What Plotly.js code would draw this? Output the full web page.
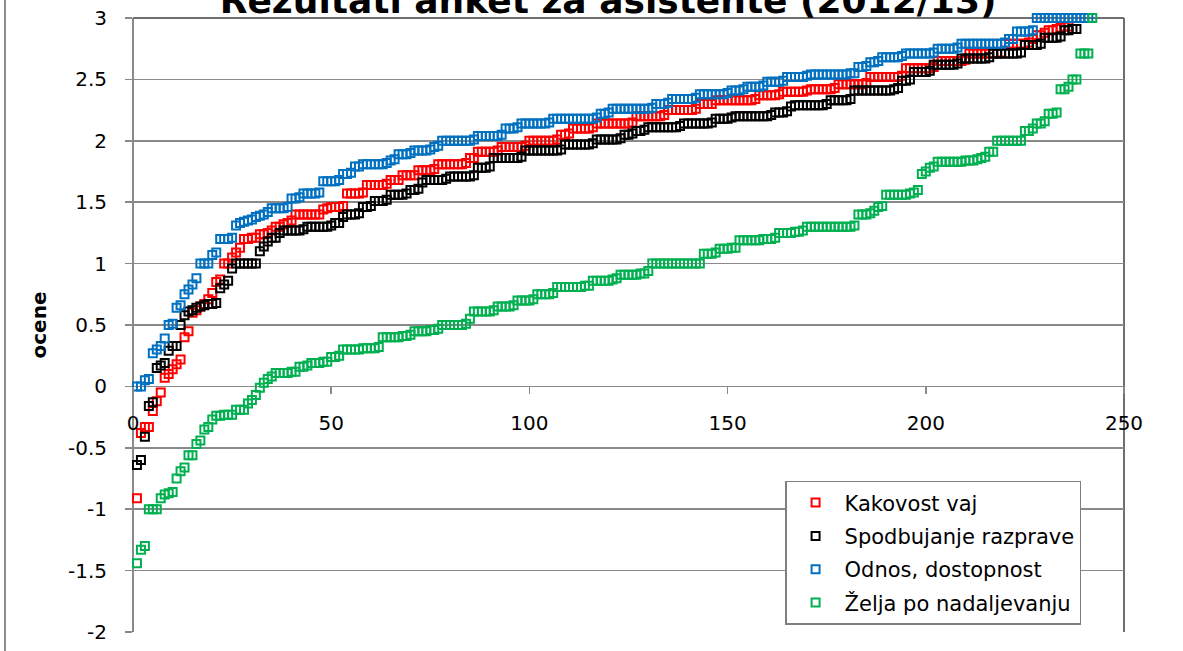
<!DOCTYPE html>
<html>
<head>
<meta charset="utf-8">
<script src="https://cdn.plot.ly/plotly-3.0.1.min.js"></script>
<style>
html,body{margin:0;padding:0;background:#fff;}
#chart{width:1183px;height:651px;}
</style>
</head>
<body>
<div id="chart"></div>
<script>
const chartTitle = "Rezultati anket za asistente (2012/13)";
const yTitle = "ocene";
const seriesNames = ["Kakovost vaj", "Spodbujanje razprave", "Odnos, dostopnost", "Želja po nadaljevanju"];

const kakovostVaj = [
-0.91,-0.38,-0.33,-0.33,-0.20,-0.12,-0.05,0.07,0.10,0.14,
0.18,0.22,0.40,0.45,0.60,0.62,0.65,0.67,0.71,0.76,
0.85,0.87,1.00,1.00,1.05,1.09,1.13,1.20,1.20,1.21,
1.21,1.24,1.24,1.25,1.27,1.30,1.30,1.32,1.33,1.35,
1.40,1.40,1.40,1.40,1.40,1.40,1.40,1.44,1.45,1.46,
1.46,1.46,1.47,1.57,1.57,1.57,1.57,1.58,1.64,1.64,
1.64,1.64,1.64,1.65,1.68,1.68,1.68,1.72,1.72,1.72,
1.72,1.76,1.76,1.76,1.76,1.77,1.81,1.81,1.81,1.81,
1.81,1.81,1.81,1.82,1.86,1.86,1.91,1.91,1.91,1.91,
1.91,1.92,1.95,1.95,1.95,1.95,1.95,1.95,1.96,2.00,
2.00,2.00,2.00,2.00,2.00,2.00,2.01,2.05,2.05,2.06,
2.10,2.10,2.10,2.10,2.10,2.11,2.14,2.14,2.14,2.14,
2.14,2.14,2.14,2.14,2.14,2.15,2.20,2.20,2.20,2.20,
2.20,2.20,2.20,2.21,2.25,2.25,2.25,2.25,2.25,2.25,
2.25,2.26,2.30,2.30,2.30,2.30,2.33,2.33,2.33,2.33,
2.33,2.33,2.33,2.33,2.33,2.33,2.34,2.37,2.37,2.37,
2.37,2.37,2.38,2.40,2.40,2.40,2.40,2.40,2.40,2.41,
2.42,2.42,2.42,2.42,2.42,2.42,2.43,2.46,2.46,2.46,
2.46,2.46,2.46,2.46,2.47,2.52,2.52,2.52,2.52,2.52,
2.52,2.52,2.52,2.53,2.59,2.59,2.59,2.59,2.59,2.59,
2.59,2.60,2.65,2.65,2.65,2.65,2.65,2.65,2.65,2.66,
2.71,2.71,2.71,2.71,2.71,2.71,2.71,2.71,2.72,2.79,
2.79,2.79,2.79,2.79,2.79,2.80,2.83,2.86,2.86,2.88,
2.90,2.90,2.91,2.92,2.93,2.93];

const spodbujanjeRazprave = [
-0.64,-0.60,-0.41,-0.16,-0.13,0.15,0.17,0.19,0.29,0.33,
0.33,0.50,0.58,0.61,0.62,0.64,0.65,0.66,0.67,0.67,
0.68,0.80,0.83,0.86,0.96,1.00,1.00,1.00,1.00,1.00,
1.00,1.10,1.14,1.18,1.21,1.21,1.25,1.27,1.27,1.27,
1.27,1.27,1.28,1.30,1.30,1.30,1.30,1.30,1.30,1.31,
1.33,1.33,1.38,1.40,1.40,1.40,1.41,1.46,1.46,1.47,
1.51,1.51,1.51,1.52,1.56,1.56,1.56,1.56,1.57,1.60,
1.60,1.61,1.66,1.68,1.68,1.68,1.68,1.68,1.69,1.71,
1.71,1.71,1.71,1.71,1.71,1.72,1.78,1.78,1.78,1.79,
1.86,1.86,1.86,1.86,1.86,1.86,1.86,1.87,1.92,1.92,
1.92,1.92,1.92,1.92,1.92,1.92,1.92,1.93,1.97,1.97,
1.97,1.97,1.97,1.97,1.97,1.98,2.01,2.01,2.01,2.01,
2.01,2.01,2.02,2.05,2.05,2.06,2.08,2.08,2.09,2.11,
2.11,2.11,2.11,2.11,2.11,2.11,2.11,2.12,2.14,2.14,
2.14,2.14,2.14,2.14,2.14,2.15,2.18,2.18,2.18,2.18,
2.19,2.20,2.20,2.20,2.20,2.20,2.20,2.20,2.20,2.20,
2.21,2.23,2.23,2.23,2.24,2.28,2.29,2.29,2.29,2.29,
2.29,2.29,2.29,2.29,2.30,2.33,2.33,2.33,2.33,2.33,
2.34,2.41,2.41,2.41,2.41,2.41,2.41,2.41,2.41,2.41,
2.41,2.42,2.43,2.49,2.49,2.50,2.56,2.56,2.56,2.56,
2.57,2.62,2.62,2.62,2.62,2.62,2.62,2.63,2.67,2.67,
2.67,2.67,2.67,2.67,2.67,2.68,2.71,2.71,2.71,2.71,
2.71,2.71,2.71,2.72,2.78,2.78,2.78,2.78,2.79,2.84,
2.84,2.84,2.84,2.85,2.90,2.90,2.91,2.91];

const odnosDostopnost = [
0.00,0.00,0.05,0.06,0.27,0.30,0.33,0.39,0.50,0.51,
0.64,0.66,0.75,0.79,0.83,0.88,1.00,1.00,1.00,1.07,
1.09,1.20,1.20,1.20,1.21,1.31,1.33,1.34,1.35,1.36,
1.38,1.39,1.40,1.42,1.45,1.45,1.45,1.45,1.46,1.53,
1.53,1.54,1.57,1.57,1.57,1.57,1.58,1.67,1.67,1.67,
1.67,1.68,1.73,1.73,1.74,1.79,1.79,1.81,1.81,1.81,
1.81,1.81,1.81,1.82,1.84,1.85,1.89,1.89,1.89,1.90,
1.92,1.92,1.92,1.92,1.93,1.95,1.96,2.00,2.00,2.00,
2.00,2.00,2.00,2.00,2.00,2.01,2.04,2.04,2.04,2.04,
2.04,2.04,2.05,2.10,2.10,2.10,2.11,2.14,2.14,2.14,
2.14,2.14,2.14,2.14,2.15,2.18,2.18,2.18,2.18,2.18,
2.18,2.18,2.18,2.18,2.18,2.18,2.19,2.22,2.22,2.23,
2.26,2.26,2.26,2.26,2.26,2.26,2.26,2.26,2.26,2.26,
2.27,2.30,2.30,2.30,2.31,2.34,2.34,2.34,2.34,2.34,
2.34,2.35,2.38,2.38,2.38,2.38,2.38,2.38,2.38,2.39,
2.41,2.41,2.41,2.42,2.44,2.44,2.44,2.44,2.45,2.48,
2.48,2.48,2.48,2.49,2.52,2.52,2.52,2.52,2.52,2.53,
2.54,2.54,2.54,2.54,2.54,2.54,2.54,2.54,2.54,2.54,
2.55,2.55,2.60,2.60,2.61,2.64,2.64,2.65,2.68,2.68,
2.68,2.68,2.68,2.69,2.71,2.71,2.71,2.71,2.71,2.71,
2.71,2.72,2.75,2.75,2.75,2.75,2.75,2.76,2.79,2.79,
2.79,2.79,2.79,2.79,2.79,2.79,2.79,2.79,2.79,2.80,
2.83,2.83,2.89,2.89,2.89,2.89,2.90,3.00,3.00,3.00,
3.00,3.00,3.00,3.00,3.00,3.00,3.00,3.00,3.00,3.00,
3.00];

const zeljaPoNadaljevanju = [
-1.44,-1.33,-1.30,-1.00,-1.00,-1.00,-0.91,-0.88,-0.87,-0.86,
-0.75,-0.69,-0.66,-0.56,-0.56,-0.47,-0.44,-0.35,-0.33,-0.27,
-0.24,-0.24,-0.23,-0.23,-0.23,-0.19,-0.19,-0.19,-0.14,-0.11,
-0.07,-0.01,0.03,0.06,0.08,0.11,0.11,0.11,0.11,0.12,
0.12,0.16,0.16,0.17,0.19,0.19,0.19,0.20,0.20,0.24,
0.24,0.25,0.30,0.30,0.30,0.30,0.30,0.31,0.31,0.31,
0.31,0.32,0.40,0.40,0.40,0.40,0.40,0.41,0.41,0.42,
0.45,0.45,0.45,0.45,0.46,0.46,0.47,0.50,0.50,0.50,
0.50,0.50,0.50,0.51,0.55,0.61,0.61,0.61,0.61,0.61,
0.62,0.65,0.65,0.65,0.65,0.66,0.70,0.70,0.70,0.70,
0.71,0.75,0.75,0.75,0.75,0.76,0.81,0.81,0.81,0.81,
0.81,0.81,0.81,0.82,0.82,0.86,0.86,0.86,0.86,0.86,
0.87,0.88,0.91,0.91,0.91,0.91,0.91,0.92,0.92,0.94,
1.00,1.00,1.00,1.00,1.00,1.00,1.00,1.00,1.00,1.00,
1.00,1.00,1.00,1.08,1.08,1.08,1.09,1.12,1.12,1.12,
1.13,1.13,1.19,1.19,1.19,1.19,1.19,1.19,1.20,1.20,
1.20,1.21,1.25,1.25,1.25,1.25,1.26,1.26,1.27,1.30,
1.30,1.30,1.30,1.30,1.30,1.30,1.30,1.30,1.30,1.30,
1.30,1.31,1.40,1.40,1.40,1.41,1.43,1.46,1.47,1.56,
1.56,1.56,1.56,1.56,1.56,1.57,1.58,1.60,1.73,1.75,
1.78,1.79,1.83,1.83,1.83,1.83,1.83,1.83,1.83,1.84,
1.84,1.84,1.85,1.86,1.87,1.91,1.91,2.00,2.00,2.00,
2.00,2.00,2.00,2.00,2.08,2.08,2.10,2.14,2.14,2.16,
2.22,2.22,2.23,2.42,2.42,2.44,2.50,2.50,2.71,2.71,
2.71,3.00];

const seriesValues = [kakovostVaj, spodbujanjeRazprave, odnosDostopnost, zeljaPoNadaljevanju];
const seriesColors = ["#FF0000", "#000000", "#0070C0", "#00B050"];

const xTickVals = [0, 50, 100, 150, 200, 250];
const xTickText = ["0", "50", "100", "150", "200", "250"];
const yTickVals = [-2, -1.5, -1, -0.5, 0, 0.5, 1, 1.5, 2, 2.5, 3];
const yTickText = ["-2", "-1.5", "-1", "-0.5", "0", "0.5", "1", "1.5", "2", "2.5", "3"];

const FONT = "DejaVu Sans, Liberation Sans, sans-serif";

const traces = seriesValues.map((vals, i) => ({
  type: "scatter",
  mode: "markers",
  name: seriesNames[i],
  legendgroup: "g" + i,
  x: vals.map((v, k) => k + 1),
  y: vals,
  marker: {
    symbol: "square-open",
    size: 8,
    color: seriesColors[i],
    line: {color: seriesColors[i], width: 2}
  },
  cliponaxis: false
}));

const layout = {
  width: 1183,
  height: 651,
  margin: {l: 133, r: 59, t: 18, b: 19, pad: 0},
  paper_bgcolor: "#ffffff",
  plot_bgcolor: "#ffffff",
  font: {family: FONT, color: "#000000", size: 20},
  title: {
    text: chartTitle,
    font: {family: "DejaVu Sans, sans-serif", size: 36, color: "#000000", weight: "bold"},
    x: 0.514, xref: "container", xanchor: "center",
    y: 1, yref: "container", yanchor: "middle"
  },
  showlegend: true,
  legend: {
    x: 0.658, y: 0.246, xanchor: "left", yanchor: "top",
    bgcolor: "#ffffff",
    bordercolor: "#7f7f7f",
    borderwidth: 1.5,
    font: {family: FONT, size: 21, color: "#000000"},
    itemwidth: 48,
    tracegroupgap: 3
  },
  xaxis: {
    range: [0, 250],
    tickvals: xTickVals,
    ticktext: xTickText,
    anchor: "free",
    position: 0.4,
    showgrid: false,
    zeroline: false,
    showline: false,
    ticks: "outside",
    ticklen: 7,
    tickwidth: 1.5,
    tickcolor: "#898989",
    ticklabelstandoff: 12,
    tickfont: {family: FONT, size: 20, color: "#000000"},
    fixedrange: true
  },
  yaxis: {
    range: [-2, 3],
    tickvals: yTickVals,
    ticktext: yTickText,
    showgrid: true,
    gridcolor: "#898989",
    gridwidth: 1.5,
    zeroline: false,
    showline: false,
    ticks: "outside",
    ticklen: 7,
    tickwidth: 1.5,
    tickcolor: "#898989",
    ticklabelstandoff: 14,
    tickfont: {family: FONT, size: 20, color: "#000000"},
    title: {
      text: yTitle,
      font: {family: "DejaVu Sans, sans-serif", size: 20, color: "#000000", weight: "bold"},
      standoff: 15
    },
    automargin: false,
    fixedrange: true
  },
  shapes: [
    {type: "line", xref: "paper", yref: "paper", x0: 0, x1: 0, y0: 0, y1: 1,
     line: {color: "#898989", width: 2}, layer: "below"},
    {type: "line", xref: "paper", yref: "paper", x0: 0, x1: 1, y0: 1, y1: 1,
     line: {color: "#6e6e6e", width: 2}, layer: "below"},
    {type: "line", xref: "paper", yref: "paper", x0: 1, x1: 1, y0: 0, y1: 1,
     line: {color: "#6e6e6e", width: 2}, layer: "below"},
    {type: "line", xref: "paper", yref: "paper", x0: -0.1292, x1: -0.1292, y0: -0.05, y1: 1.05,
     line: {color: "#8c8c8c", width: 2}, layer: "below"}
  ]
};

Plotly.newPlot("chart", traces, layout, {displayModeBar: false, staticPlot: true});
</script>
</body>
</html>
